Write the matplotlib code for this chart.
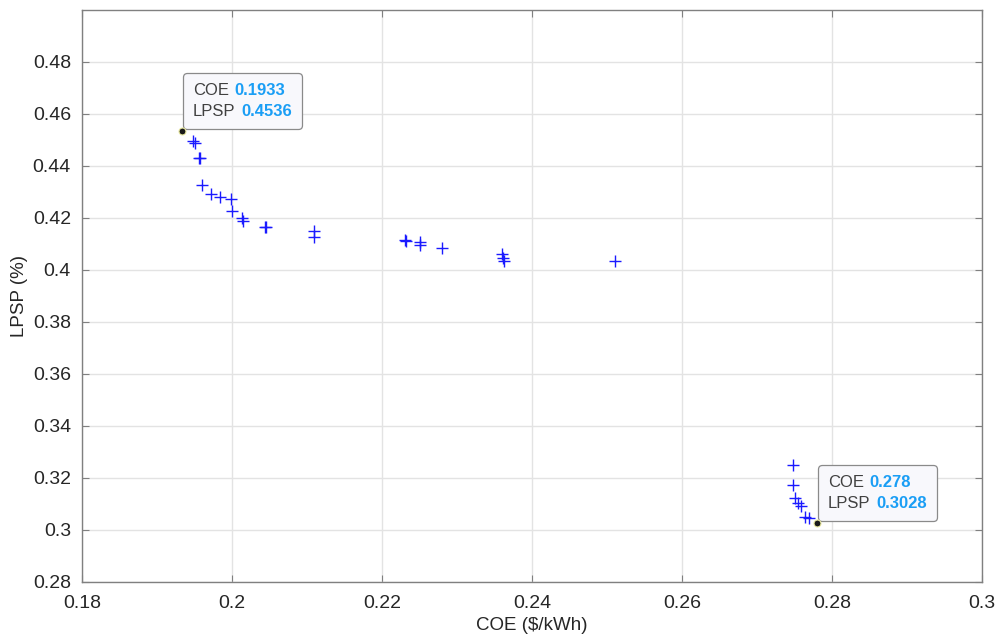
import matplotlib
matplotlib.use("Agg")
import matplotlib.pyplot as plt
from matplotlib.offsetbox import TextArea, HPacker, VPacker, AnnotationBbox

plt.rcParams['font.family'] = ['Liberation Sans', 'DejaVu Sans']

coe = [0.1948, 0.1951, 0.1956, 0.1957, 0.1960, 0.1972, 0.1984, 0.1999, 0.2000,
       0.2013, 0.2015, 0.2044, 0.2045, 0.2109, 0.2109, 0.2231, 0.2232, 0.2251,
       0.2251, 0.2280, 0.2360, 0.2361, 0.2363, 0.2511,
       0.2748, 0.2748, 0.2751, 0.2755, 0.2758, 0.2764, 0.2769]
lpsp = [0.4496, 0.4488, 0.4432, 0.4429, 0.4327, 0.4294, 0.4282, 0.4273, 0.4227,
        0.4200, 0.4188, 0.4167, 0.4164, 0.4151, 0.4128, 0.4117, 0.4113, 0.4106,
        0.4096, 0.4085, 0.4062, 0.4046, 0.4035, 0.4033,
        0.3250, 0.3173, 0.3122, 0.3104, 0.3094, 0.3050, 0.3046]

tip_coe = [0.1933, 0.278]
tip_lpsp = [0.4536, 0.3028]
tip_coe_txt = ['0.1933', '0.278']
tip_lpsp_txt = ['0.4536', '0.3028']

xticks = [0.18, 0.2, 0.22, 0.24, 0.26, 0.28, 0.3]
xticklabels = ['0.18', '0.2', '0.22', '0.24', '0.26', '0.28', '0.3']
yticks = [0.28, 0.3, 0.32, 0.34, 0.36, 0.38, 0.4, 0.42, 0.44, 0.46, 0.48]
yticklabels = ['0.28', '0.3', '0.32', '0.34', '0.36', '0.38', '0.4', '0.42', '0.44', '0.46', '0.48']

fig = plt.figure(figsize=(9.97, 6.35), dpi=100)
ax = fig.add_axes([82/997, 53/635, 900/997, 572/635])

ax.plot(coe, lpsp, linestyle='none', marker='+', color=(0.1, 0.1, 1), markersize=9, markeredgewidth=1.0)
ax.plot(tip_coe, tip_lpsp, linestyle='none', marker='o', markersize=5,
        markerfacecolor='#1a1a1a', markeredgecolor='#e8e8a0', markeredgewidth=0.8, zorder=8,
        clip_on=False)

ax.set_xlim(0.18, 0.3)
ax.set_ylim(0.28, 0.5)
ax.set_xticks(xticks)
ax.set_xticklabels(xticklabels)
ax.set_yticks(yticks)
ax.set_yticklabels(yticklabels)
ax.grid(True, color='#e3e3e3', linewidth=1.0)
ax.set_axisbelow(True)
for s in ax.spines.values():
    s.set_color('#808080')
    s.set_linewidth(1.0)
ax.tick_params(direction='in', length=5, width=0.8, color='#808080', labelcolor='#262626',
               labelsize=14, top=True, right=True)
ax.tick_params(axis='x', pad=9)
ax.tick_params(axis='y', pad=8)
ax.set_xlabel('COE ($/kWh)', fontsize=13.5, color='#262626', labelpad=4)
ax.set_ylabel('LPSP (%)', fontsize=13.5, color='#262626', labelpad=3)

lab_kw = dict(color='#404040', fontsize=12)
val_kw = dict(color='#1a9ef5', fontsize=12, fontweight='bold')
for cx, cy, ct, lt in zip(tip_coe, tip_lpsp, tip_coe_txt, tip_lpsp_txt):
    r1 = HPacker(children=[TextArea('COE', textprops=lab_kw), TextArea(ct, textprops=val_kw)],
                 sep=4, pad=0, align='baseline')
    r2 = HPacker(children=[TextArea('LPSP', textprops=lab_kw), TextArea(lt, textprops=val_kw)],
                 sep=4, pad=0, align='baseline')
    vp = VPacker(children=[r1, r2], sep=4, pad=0, align='left')
    ab = AnnotationBbox(vp, (cx, cy), xybox=(8, 8.6), xycoords='data',
                        boxcoords='offset points', box_alignment=(0, 0),
                        bboxprops=dict(boxstyle='round,pad=0.72,rounding_size=0.3',
                                       facecolor='#f8f8fc', edgecolor='#8a8a8a', linewidth=0.9),
                        zorder=6)
    ax.add_artist(ab)

fig.savefig('out.png', dpi=100, facecolor='white')
